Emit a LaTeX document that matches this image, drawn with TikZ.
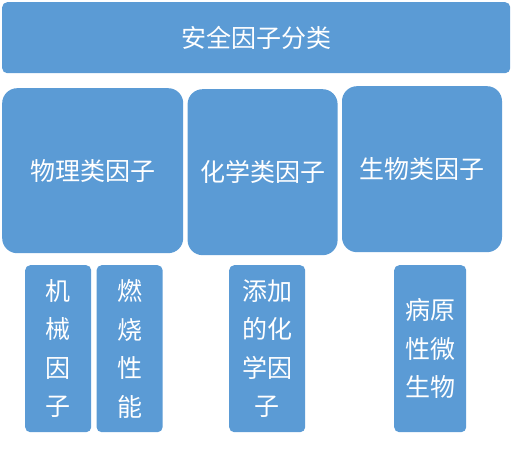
\documentclass[tikz,border=0pt]{standalone}
\usepackage{fontspec}
\newfontfamily\cjk{Noto Sans CJK SC}
\usetikzlibrary{positioning}
\definecolor{boxblue}{RGB}{91,155,213}

\begin{document}
\begin{tikzpicture}[x=1pt, y=1pt, node distance=4pt]
\tikzstyle{base} = [fill=boxblue, text=white, rectangle, inner sep=0pt,
    align=center, font={\cjk\fontsize{25}{38.5}\selectfont}]
\tikzstyle{banner} = [base, rounded corners=5pt, minimum width=508pt,
    minimum height=71pt, anchor=north west]
\tikzstyle{cat} = [base, rounded corners=15pt, minimum height=166pt,
    anchor=north west]
\tikzstyle{leaf} = [base, rounded corners=5pt, minimum height=167pt,
    anchor=north west]
    \useasboundingbox (0,0) rectangle (512,-449);
    % We start with the title bar on top
    \node [banner] (title) at (2,-2) {安全因子分类};
    % then the three groups of factors
    \node [cat, minimum width=181pt, minimum height=165pt] (phys) at (2,-88) {物理类因子};
    \node [cat, minimum width=150pt, right=4pt of phys.north east, anchor=north west,
            yshift=-1pt] (chem) {化学类因子};
    \node [cat, minimum width=160pt, right=4pt of chem.north east, anchor=north west,
            yshift=3pt] (bio) {生物类因子};
    % and the single factors below them
    \node [leaf, minimum width=66pt] (mech) at (25,-265) {机\\械\\因\\子};
    \node [leaf, minimum width=66pt, right=5pt of mech.north east, anchor=north west]
        (fire) {燃\\烧\\性\\能};
    \node [leaf, minimum width=76pt] (additive) at (229,-265) {添加\\的化\\学因\\子};
    \node [leaf, minimum width=72pt] (microbe) at (394,-265) {病原\\性微\\生物};
\end{tikzpicture}
\end{document}
